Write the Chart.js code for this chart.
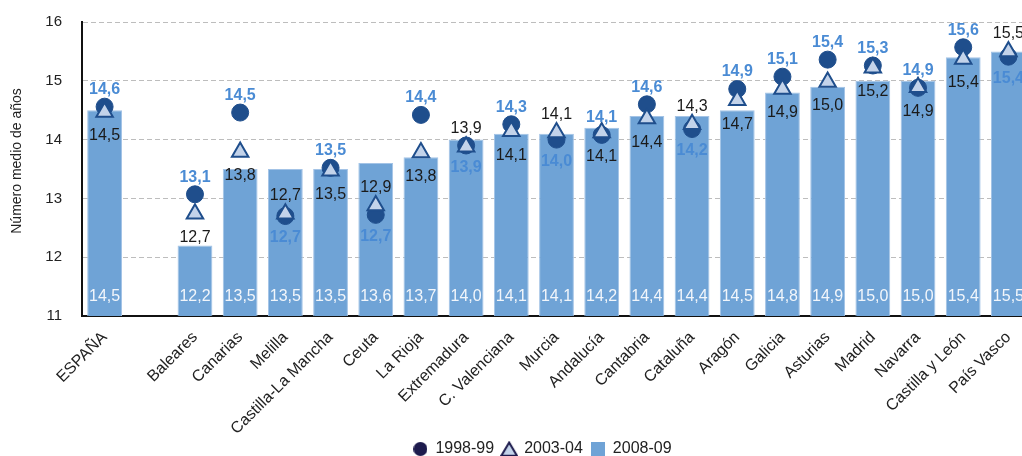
<!DOCTYPE html>
<html lang="es">
<head>
<meta charset="utf-8">
<title>Número medio de años</title>
<script src="https://cdn.jsdelivr.net/npm/chart.js@4.4.0/dist/chart.umd.min.js"></script>
<style>
    html, body { margin: 0; padding: 0; background: #fff; overflow: hidden; }
    #wrap { width: 1087px; height: 456px; }
</style>
</head>
<body>
<div id="wrap"><canvas id="grafico" width="1087" height="456"></canvas></div>
<script>
// Categorias (la segunda va vacia para dejar el hueco despues de ESPAÑA)
var categorias = ['ESPAÑA', '', 'Baleares', 'Canarias', 'Melilla', 'Castilla-La Mancha', 'Ceuta',
    'La Rioja', 'Extremadura', 'C. Valenciana', 'Murcia', 'Andalucía', 'Cantabria', 'Cataluña',
    'Aragón', 'Galicia', 'Asturias', 'Madrid', 'Navarra', 'Castilla y León', 'País Vasco'];

// 1998-99 (circulos)
var curso9899 = [14.56, null, 13.07, 14.46, 12.70, 13.52, 12.72, 14.42, 13.90, 14.26, 14.00,
    14.08, 14.60, 14.18, 14.86, 15.07, 15.36, 15.26, 14.88, 15.57, 15.41];
// 2003-04 (triangulos)
var curso0304 = [14.47, null, 12.74, 13.79, 12.74, 13.47, 12.88, 13.78, 13.88, 14.14, 14.12,
    14.12, 14.36, 14.26, 14.67, 14.86, 14.98, 15.22, 14.89, 15.37, 15.50];
// 2008-09 (barras)
var curso0809 = [14.5, null, 12.2, 13.5, 13.5, 13.5, 13.6, 13.7, 14.0, 14.1, 14.1,
    14.2, 14.4, 14.4, 14.5, 14.8, 14.9, 15.0, 15.0, 15.4, 15.5];

var series = ['1998-99', '2003-04', '2008-09'];
var tituloY = 'Número medio de años';
var ejeMin = 11;
var ejeMax = 16;

// etiqueta azul del 98-99 encima (true) o debajo (false) del punto; la del 03-04 va al reves
var azulArriba = [true, null, true, true, false, true, false, true, false, true, false,
    true, true, false, true, true, true, true, true, true, false];

var fuente = "'Liberation Sans', Arial, sans-serif";

function coma(v) {
    return v.toFixed(1).replace('.', ',');
}

// iconos de la leyenda
function icono(w, h, dibujar) {
    var c = document.createElement('canvas');
    c.width = w;
    c.height = h;
    dibujar(c.getContext('2d'));
    return c;
}
var iconos = [
    icono(14, 14, function (g) {
        g.fillStyle = '#1d1b4d';
        g.beginPath();
        g.arc(7, 7, 7, 0, Math.PI * 2);
        g.fill();
    }),
    icono(18, 16, function (g) {
        g.fillStyle = '#c3d3ea';
        g.strokeStyle = '#1d1b4d';
        g.lineWidth = 2;
        g.beginPath();
        g.moveTo(9, 1.5);
        g.lineTo(16.8, 14.8);
        g.lineTo(1.2, 14.8);
        g.closePath();
        g.fill();
        g.stroke();
    }),
    icono(14, 14, function (g) {
        g.fillStyle = '#6fa3d6';
        g.fillRect(0, 0, 14, 14);
    })
];

var etiquetasValores = {
    id: 'etiquetasValores',
    afterDatasetsDraw: function (chart) {
        var ctx = chart.ctx;
        var base = chart.scales.y.getPixelForValue(ejeMin);
        ctx.save();
        ctx.textAlign = 'center';
        ctx.textBaseline = 'middle';
        chart.data.datasets.forEach(function (ds, i) {
            var meta = chart.getDatasetMeta(i);
            meta.data.forEach(function (el, j) {
                var v = ds.data[j];
                if (v == null) return;
                var y;
                if (i === 0) {
                    ctx.font = 'bold 16px ' + fuente;
                    ctx.fillStyle = '#4a8bd4';
                    y = azulArriba[j] ? el.y - 17 : el.y + 22;
                } else if (i === 1) {
                    ctx.font = '16px ' + fuente;
                    ctx.fillStyle = '#1a1a1a';
                    y = azulArriba[j] ? el.y + 24 : el.y - 18;
                } else {
                    ctx.font = '16px ' + fuente;
                    ctx.fillStyle = '#f2f6fb';
                    y = base - 19;
                }
                ctx.fillText(coma(v), el.x, y);
            });
        });

        // titulo del eje y
        ctx.font = '14px ' + fuente;
        ctx.fillStyle = '#222';
        ctx.translate(17, 161);
        ctx.rotate(-Math.PI / 2);
        ctx.fillText(tituloY, 0, 0);
        ctx.restore();
    },
    afterLayout: function (chart) {
        // la leyenda del original esta algo corrida a la derecha y pegada al borde de abajo
        chart.legend.left += 27;
        chart.legend.right += 27;
        chart.legend.top += 11;
        chart.legend.bottom += 11;
        // que no se corten las etiquetas largas del eje x
        chart.scales.x.bottom = chart.height;
    }
};

var ctx = document.getElementById('grafico').getContext('2d');

new Chart(ctx, {
    type: 'bar',
    data: {
        labels: categorias,
        datasets: [
            {
                type: 'line',
                label: series[0],
                data: curso9899,
                showLine: false,
                pointStyle: 'circle',
                pointRadius: 8.5,
                pointBackgroundColor: '#1f4e8c',
                pointBorderColor: '#1f4e8c',
                pointBorderWidth: 1,
                order: 1
            },
            {
                type: 'line',
                label: series[1],
                data: curso0304,
                showLine: false,
                pointStyle: 'triangle',
                pointRadius: 9.5,
                pointBackgroundColor: '#c3d3ea',
                pointBorderColor: '#1f4e8c',
                pointBorderWidth: 2,
                order: 0
            },
            {
                label: series[2],
                data: curso0809,
                backgroundColor: '#6fa3d6',
                borderColor: '#a3c3e6',
                borderWidth: 1,
                barPercentage: 0.77,
                categoryPercentage: 1,
                order: 2
            }
        ]
    },
    options: {
        responsive: false,
        animation: false,
        devicePixelRatio: 1,
        layout: { autoPadding: false, padding: { left: 0, right: 56, top: 22, bottom: 0 } },
        plugins: {
            tooltip: { enabled: false },
            legend: {
                position: 'bottom',
                labels: {
                    usePointStyle: true,
                    boxWidth: 14,
                    boxHeight: 14,
                    padding: 8,
                    color: '#222',
                    font: { family: fuente, size: 16 },
                    sort: function (a, b) { return a.datasetIndex - b.datasetIndex; },
                    generateLabels: function (chart) {
                        var items = Chart.defaults.plugins.legend.labels.generateLabels(chart);
                        items.forEach(function (it) { it.pointStyle = iconos[it.datasetIndex]; });
                        return items;
                    }
                }
            }
        },
        scales: {
            x: {
                grid: { display: false },
                border: { display: true, color: '#111', width: 2 },
                ticks: {
                    autoSkip: false,
                    minRotation: 45,
                    maxRotation: 45,
                    padding: 4,
                    color: '#222',
                    font: { family: fuente, size: 16 }
                },
                afterFit: function (scale) { scale.height = 106; }
            },
            y: {
                min: ejeMin,
                max: ejeMax,
                grid: { color: '#bdbdbd', lineWidth: 1, drawTicks: true, tickLength: 16, tickColor: 'rgba(0,0,0,0)' },
                border: { display: true, color: '#111', width: 2, dash: [5, 3] },
                ticks: {
                    stepSize: 1,
                    padding: 4,
                    color: '#222',
                    font: { family: fuente, size: 15 }
                },
                afterFit: function (scale) { scale.width = 82; }
            }
        }
    },
    plugins: [etiquetasValores]
});
</script>
</body>
</html>
